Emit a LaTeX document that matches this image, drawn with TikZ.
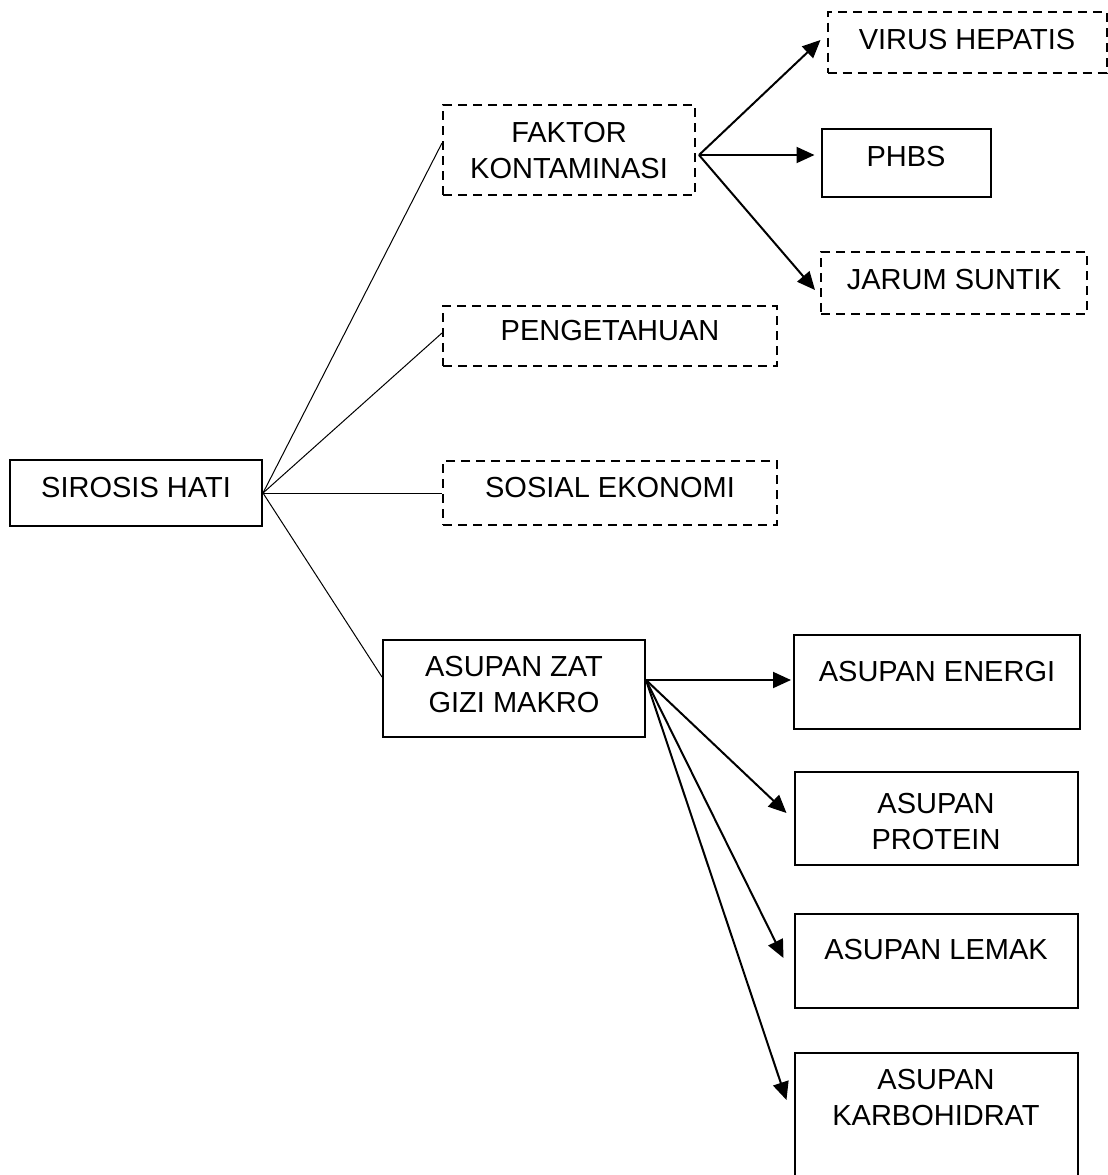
\documentclass[tikz,border=0pt]{standalone}
\usepackage{fontspec}
\setmainfont{Liberation Sans}
\usetikzlibrary{arrows.meta}

\tikzset{
    box/.style={draw, line width=1pt, inner sep=0pt},
    solidbox/.style={box},
    dashbox/.style={box, dash pattern=on 4.5pt off 3pt},
    txt/.style={font=\fontsize{14.5pt}{18pt}\selectfont, align=center, inner sep=0pt},
    link/.style={line width=0.5pt},
    arrow/.style={line width=1pt, -{Triangle[length=9pt,width=8pt]}}
}

\begin{document}
\begin{tikzpicture}[x=0.5pt, y=-0.5pt]
    \useasboundingbox (0,0) rectangle (1108,1175);

    % Main box
    \node[solidbox, minimum width=126pt, minimum height=33pt] (sirosis) at (136,493) {};
    \node[txt] (sirosis-t) at (136,488) {SIROSIS HATI};

    % Factors
    \node[dashbox, minimum width=126pt, minimum height=45pt] (faktor) at (569,150) {};
    \node[txt] (faktor-t) at (569,151) {FAKTOR\\KONTAMINASI};
    \node[dashbox, minimum width=167pt, minimum height=30pt] (tahu) at (610,336) {};
    \node[txt] (tahu-t) at (610,331) {PENGETAHUAN};
    \node[dashbox, minimum width=167pt, minimum height=32pt] (sosial) at (610,493) {};
    \node[txt] (sosial-t) at (610,488) {SOSIAL EKONOMI};
    \node[solidbox, minimum width=131pt, minimum height=48.5pt] (gizi) at (514,688) {};
    \node[txt] (gizi-t) at (514,685) {ASUPAN ZAT\\GIZI MAKRO};

    % Contamination
    \node[dashbox, minimum width=139.5pt, minimum height=30.5pt] (virus) at (967,42) {};
    \node[txt] (virus-t) at (967,40) {VIRUS HEPATIS};
    \node[solidbox, minimum width=84.5pt, minimum height=34pt] (phbs) at (906,163) {};
    \node[txt] (phbs-t) at (906,157) {PHBS};
    \node[dashbox, minimum width=133pt, minimum height=31pt] (jarum) at (954,283) {};
    \node[txt] (jarum-t) at (954,280) {JARUM SUNTIK};

    % Macro nutrients
    \node[solidbox, minimum width=143pt, minimum height=47pt] (energi) at (937,682) {};
    \node[txt] (energi-t) at (937,672) {ASUPAN ENERGI};
    \node[solidbox, minimum width=141.5pt, minimum height=46.5pt] (protein) at (936,818) {};
    \node[txt] (protein-t) at (936,822) {ASUPAN\\PROTEIN};
    \node[solidbox, minimum width=141.5pt, minimum height=47pt] (lemak) at (936,961) {};
    \node[txt] (lemak-t) at (936,950) {ASUPAN LEMAK};
    \node[solidbox, minimum width=141.5pt, minimum height=75pt] (karbo) at (936,1128) {};
    \node[txt] (karbo-t) at (936,1098) {ASUPAN\\KARBOHIDRAT};

    % Lines from main box
    \draw[link] (sirosis.east) -- ([yshift=3.5pt]faktor.west);
    \draw[link] (sirosis.east) -- ([yshift=1.5pt]tahu.west);
    \draw[link] (sirosis.east) -- (sosial.west);
    \draw[link] (sirosis.east) -- ([yshift=5.5pt]gizi.west);

    % Arrows
    \draw[arrow] ([xshift=1.5pt, yshift=-2.5pt]faktor.east) -- ([xshift=-3pt, yshift=1pt]virus.west);
    \draw[arrow] ([xshift=1.5pt, yshift=-2.5pt]faktor.east) -- ([xshift=-3pt, yshift=4pt]phbs.west);
    \draw[arrow] ([xshift=1.5pt, yshift=-2.5pt]faktor.east) -- ([xshift=-2.5pt, yshift=-3.5pt]jarum.west);
    \draw[arrow] ([yshift=4pt]gizi.east) -- ([xshift=-1pt, yshift=1pt]energi.west);
    \draw[arrow] ([yshift=4pt]gizi.east) -- ([xshift=-3.5pt, yshift=2.5pt]protein.west);
    \draw[arrow] ([yshift=4pt]gizi.east) -- ([xshift=-5pt, yshift=1.5pt]lemak.west);
    \draw[arrow] ([yshift=4pt]gizi.east) -- ([xshift=-3.5pt, yshift=14pt]karbo.west);
\end{tikzpicture}
\end{document}
